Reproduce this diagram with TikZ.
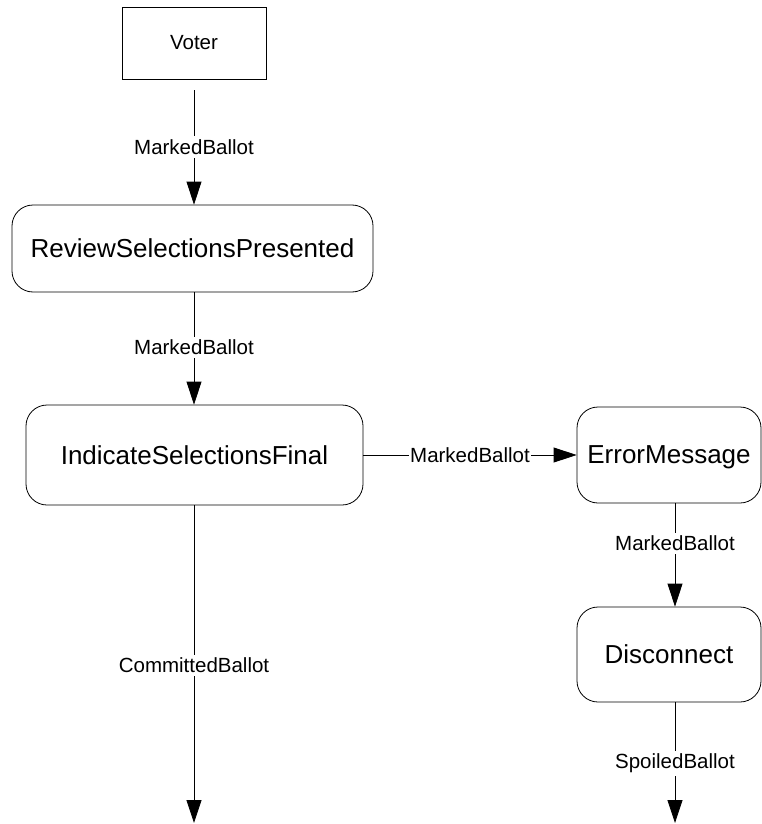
\documentclass[tikz,border=0pt]{standalone}
\usepackage{fontspec}
\setmainfont{Liberation Sans}
\usetikzlibrary{arrows.meta}
\begin{document}
\begin{tikzpicture}[x=1pt,y=-1pt,
  state/.style={draw, rounded corners=21pt, line width=0.8pt, inner sep=0pt,
    font=\fontsize{26}{30}\selectfont, text depth=0pt},
  ext/.style={draw, line width=0.8pt, inner sep=0pt, font=\fontsize{20.5}{24}\selectfont},
  lbl/.style={fill=white, inner xsep=1pt, inner ysep=3pt, font=\fontsize{20.5}{24}\selectfont},
  flow/.style={line width=0.8pt, -{Triangle[length=23pt,width=15pt]}}]
\useasboundingbox (0,0) rectangle (762,824);

\node[ext, minimum width=144pt, minimum height=72pt] (voter) at (194,43) {Voter};
\node[state, minimum width=361pt, minimum height=87pt] (review) at (192.5,248.5) {ReviewSelectionsPresented};
\node[state, minimum width=337pt, minimum height=100pt] (indicate) at (194.5,455) {IndicateSelectionsFinal};
\node[state, minimum width=184pt, minimum height=96pt] (error) at (669,455) {ErrorMessage};
\node[state, minimum width=184pt, minimum height=95pt] (disc) at (669,654.5) {Disconnect};

\coordinate (endA) at (194,823);
\coordinate (endB) at (675,823);

\draw[flow, shorten <=11pt] (voter.south) -- node[lbl, pos=0.54] (l1) {MarkedBallot} (review.north -| voter.south);
\draw[flow] (review.south -| voter.south) -- node[lbl, pos=0.49] (l2) {MarkedBallot} (indicate.north -| voter.south);
\draw[flow] (indicate.east) -- node[lbl, pos=0.5] (l3) {MarkedBallot} (error.west);
\draw[flow] (error.south -| endB) -- node[lbl, pos=0.385] (l4) {MarkedBallot} (disc.north -| endB);
\draw[flow] (disc.south -| endB) -- node[lbl, pos=0.504] (l5) {SpoiledBallot} (endB);
\draw[flow] (indicate.south -| endA) -- node[lbl, pos=0.503] (l6) {CommittedBallot} (endA);
\end{tikzpicture}
\end{document}
